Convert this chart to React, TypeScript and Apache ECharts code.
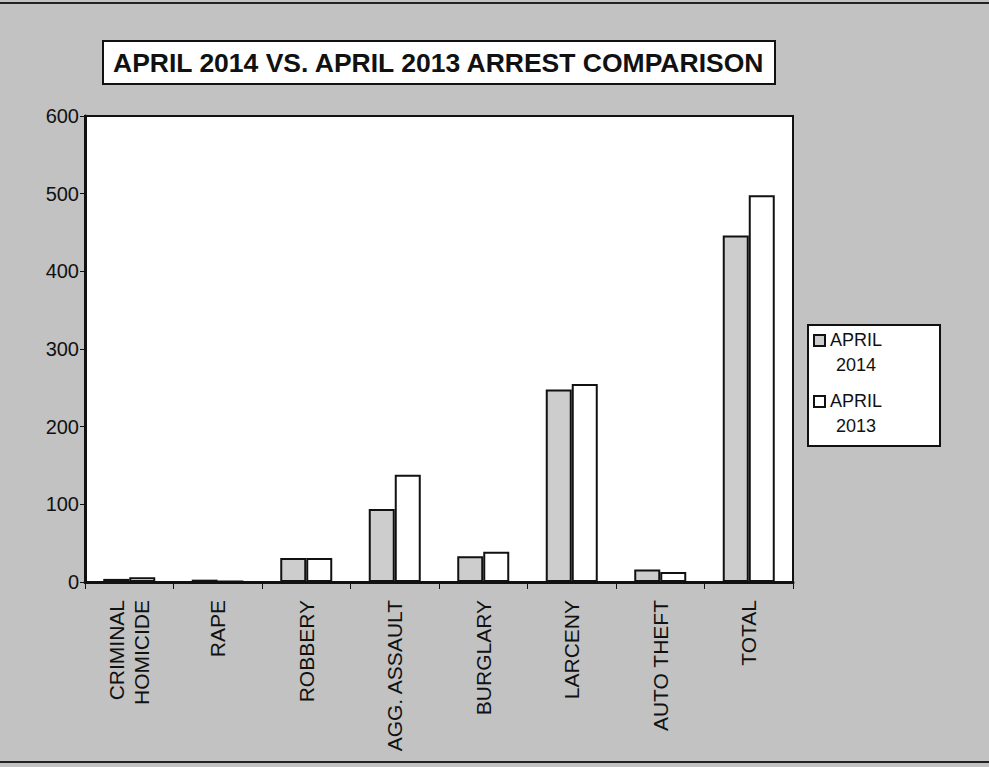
import React, { useEffect, useRef } from "react";
import * as echarts from "echarts";

const titleText = "APRIL 2014 VS. APRIL 2013 ARREST COMPARISON";
const categories = [
  "CRIMINAL\nHOMICIDE",
  "RAPE",
  "ROBBERY",
  "AGG. ASSAULT",
  "BURGLARY",
  "LARCENY",
  "AUTO THEFT",
  "TOTAL",
];
const seriesNames = ["APRIL 2014", "APRIL 2013"];
const april2014 = [4, 3, 31, 94, 33, 248, 16, 446];
const april2013 = [6, 1, 31, 138, 39, 255, 13, 498];
const yTicks = { min: 0, max: 600, interval: 100 };

const FONT = "Liberation Sans, Arial, sans-serif";

export default function App() {
  const ref = useRef<HTMLDivElement>(null);
  useEffect(() => {
    if (!ref.current) return;
    const chart = echarts.init(ref.current, undefined, { renderer: "svg" });
    const legendFormatter = (name: string) => {
      const parts = name.split(" ");
      return `{a|${parts[0]}}\n{a|${parts[1]}}`;
    };
    chart.setOption({
      animation: false,
      backgroundColor: "#c2c2c2",
      textStyle: { fontFamily: FONT },
      title: {
        text: titleText,
        left: 103,
        top: 41,
        padding: [8, 9, 8, 10],
        backgroundColor: "#ffffff",
        borderColor: "#111",
        borderWidth: 2,
        textStyle: {
          fontFamily: FONT,
          fontSize: 26.5,
          fontWeight: "bold",
          color: "#111",
        },
      },
      legend: {
        orient: "vertical",
        left: 808,
        top: 325,
        padding: [6, 58, 11, 5],
        itemGap: 18,
        itemWidth: 11,
        itemHeight: 11,
        icon: "rect",
        backgroundColor: "#ffffff",
        borderColor: "#111",
        borderWidth: 2,
        data: seriesNames,
        formatter: legendFormatter,
        textStyle: {
          color: "#111",
          fontFamily: FONT,
          fontSize: 18,
          padding: [24, 0, 0, 0],
          rich: {
            a: {
              fontFamily: FONT,
              fontSize: 18,
              lineHeight: 25,
              width: 52,
              align: "center",
              color: "#111",
            },
          },
        },
      },
      grid: {
        left: 85,
        right: 196,
        top: 116,
        bottom: 185,
        show: true,
        backgroundColor: "#ffffff",
        borderColor: "#111",
        borderWidth: 2,
      },
      xAxis: {
        type: "category",
        data: categories,
        axisLine: { lineStyle: { color: "#111", width: 3 } },
        axisTick: { show: true, length: 7, lineStyle: { color: "#111", width: 1 } },
        axisLabel: {
          rotate: 90,
          interval: 0,
          margin: 18,
          color: "#111",
          fontFamily: FONT,
          fontSize: 21,
          lineHeight: 25,
        },
      },
      yAxis: {
        type: "value",
        min: yTicks.min,
        max: yTicks.max,
        interval: yTicks.interval,
        axisLine: { show: true, lineStyle: { color: "#111", width: 3 } },
        axisTick: { show: true, length: 5, lineStyle: { color: "#111" } },
        splitLine: { show: false },
        axisLabel: {
          margin: 6,
          color: "#111",
          fontFamily: FONT,
          fontSize: 20,
        },
      },
      series: [
        {
          name: seriesNames[0],
          type: "bar",
          data: april2014,
          barWidth: 26,
          barGap: "0%",
          itemStyle: { color: "#cdcdcd", borderColor: "#111", borderWidth: 2 },
        },
        {
          name: seriesNames[1],
          type: "bar",
          data: april2013,
          barWidth: 26,
          barGap: "0%",
          itemStyle: { color: "#ffffff", borderColor: "#111", borderWidth: 2 },
        },
      ],
      graphic: [
        {
          type: "line",
          shape: { x1: 0, y1: 3, x2: 989, y2: 3 },
          style: { stroke: "#222", lineWidth: 2 },
        },
        {
          type: "line",
          shape: { x1: 0, y1: 762, x2: 989, y2: 762 },
          style: { stroke: "#222", lineWidth: 2 },
        },
      ],
    });
    return () => chart.dispose();
  }, []);
  return (
    <div
      ref={ref}
      style={{ position: "fixed", left: 0, top: 0, width: 989, height: 767 }}
    />
  );
}
